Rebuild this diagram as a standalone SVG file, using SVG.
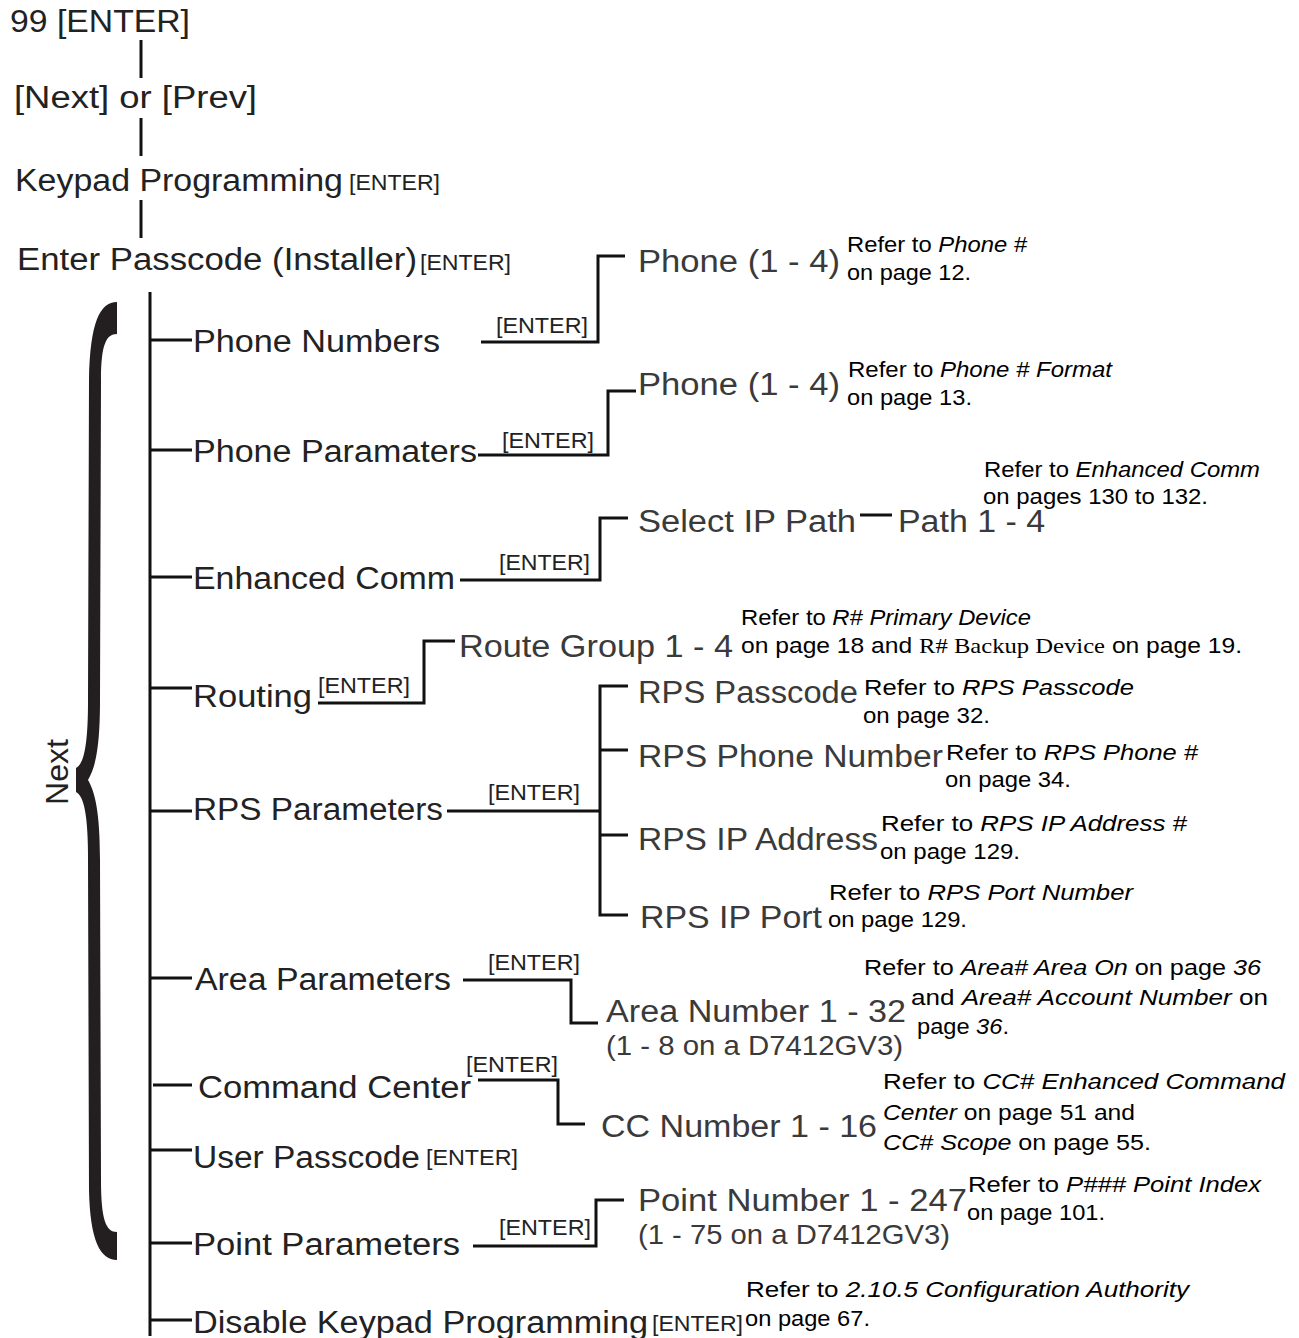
<svg xmlns="http://www.w3.org/2000/svg" width="1299" height="1338" viewBox="0 0 1299 1338">
<style>
text{font-family:"Liberation Sans","Noto Sans",sans-serif}
.m{font-size:31px;fill:#222}
.s{font-size:31px;fill:#3a3a3a}
.e{font-size:22px;fill:#222}
.r{font-size:22px;fill:#000}
.i{font-style:italic}
.sf{font-family:"Liberation Serif",serif}
.c{fill:none;stroke:#111;stroke-width:3}
</style>
<rect width="1299" height="1338" fill="#fff"/>
<g id="connectors">
<path class="c" d="M141,40V78M141,118V156M141,200V238"/>
<path class="c" d="M150,292V1336"/>
<path class="c" d="M150,340H192M150,450H192M150,577H192M150,688H192M150,811H192M150,978H192M153,1085H192M150,1150H192M150,1243H192M150,1320H192"/>
<path class="c" d="M481,342H598V256H625"/>
<path class="c" d="M478,455H608V391H636"/>
<path class="c" d="M460,580H600V518H628"/>
<path class="c" d="M860,515H892"/>
<path class="c" d="M318,703H424V641H455"/>
<path class="c" d="M447,811H600"/>
<path class="c" d="M628,686H600V915H628M600,750H628M600,835H628"/>
<path class="c" d="M463,980H571V1023H598"/>
<path class="c" d="M478,1080H558V1124H585"/>
<path class="c" d="M473,1246H596V1200H624"/>
</g>
<g id="brace">
<path fill="#231f20" d="M117,302C100,302 90,322 89,380L88,700C88,745 84,764 76,768L76,792C84,796 88,815 88,860L89,1190C90,1240 100,1260 117,1260L117,1232C106,1232 101,1220 101,1180L100,860C100,812 95,792 88,780C95,768 100,750 100,700L101,380C101,345 106,334 117,334Z"/>
<text class="m" transform="translate(68,772) rotate(-90)" text-anchor="middle" textLength="66" lengthAdjust="spacingAndGlyphs">Next</text>
</g>
<g id="top">
<text class="m" x="10" y="32" textLength="180" lengthAdjust="spacingAndGlyphs">99 [ENTER]</text>
<text class="m" x="14" y="108" textLength="243" lengthAdjust="spacingAndGlyphs">[Next] or [Prev]</text>
<text class="m" x="15" y="191" textLength="328" lengthAdjust="spacingAndGlyphs">Keypad Programming</text>
<text class="e" x="349" y="190" textLength="91" lengthAdjust="spacingAndGlyphs">[ENTER]</text>
<text class="m" x="17" y="270" textLength="400" lengthAdjust="spacingAndGlyphs">Enter Passcode (Installer)</text>
<text class="e" x="420" y="270" textLength="91" lengthAdjust="spacingAndGlyphs">[ENTER]</text>
</g>
<g id="phone-numbers">
<text class="m" x="193" y="352" textLength="247" lengthAdjust="spacingAndGlyphs">Phone Numbers</text>
<text class="e" x="496" y="333" textLength="92" lengthAdjust="spacingAndGlyphs">[ENTER]</text>
<text class="s" x="638" y="272" textLength="202" lengthAdjust="spacingAndGlyphs">Phone (1 - 4)</text>
<text class="r" x="847" y="252" textLength="180" lengthAdjust="spacingAndGlyphs">Refer to <tspan class="i">Phone #</tspan></text>
<text class="r" x="847" y="280" textLength="124" lengthAdjust="spacingAndGlyphs">on page 12.</text>
</g>
<g id="phone-parameters">
<text class="m" x="193" y="462" textLength="284" lengthAdjust="spacingAndGlyphs">Phone Paramaters</text>
<text class="e" x="502" y="448" textLength="92" lengthAdjust="spacingAndGlyphs">[ENTER]</text>
<text class="s" x="638" y="395" textLength="202" lengthAdjust="spacingAndGlyphs">Phone (1 - 4)</text>
<text class="r" x="848" y="377" textLength="264" lengthAdjust="spacingAndGlyphs">Refer to <tspan class="i">Phone # Format</tspan></text>
<text class="r" x="847" y="405" textLength="125" lengthAdjust="spacingAndGlyphs">on page 13.</text>
</g>
<g id="enhanced-comm">
<text class="m" x="193" y="589" textLength="262" lengthAdjust="spacingAndGlyphs">Enhanced Comm</text>
<text class="e" x="499" y="570" textLength="91" lengthAdjust="spacingAndGlyphs">[ENTER]</text>
<text class="s" x="638" y="532" textLength="218" lengthAdjust="spacingAndGlyphs">Select IP Path</text>
<text class="s" x="898" y="532" textLength="147" lengthAdjust="spacingAndGlyphs">Path 1 - 4</text>
<text class="r" x="984" y="477" textLength="276" lengthAdjust="spacingAndGlyphs">Refer to <tspan class="i">Enhanced Comm</tspan></text>
<text class="r" x="983" y="504" textLength="225" lengthAdjust="spacingAndGlyphs">on pages 130 to 132.</text>
</g>
<g id="routing">
<text class="m" x="193" y="707" textLength="119" lengthAdjust="spacingAndGlyphs">Routing</text>
<text class="e" x="318" y="693" textLength="92" lengthAdjust="spacingAndGlyphs">[ENTER]</text>
<text class="s" x="459" y="657" textLength="274" lengthAdjust="spacingAndGlyphs">Route Group 1 - 4</text>
<text class="r" x="741" y="625" textLength="290" lengthAdjust="spacingAndGlyphs">Refer to <tspan class="i">R# Primary Device</tspan></text>
<text class="r" x="741" y="653" textLength="501" lengthAdjust="spacingAndGlyphs">on page 18 and <tspan class="sf">R# Backup Device</tspan> on page 19.</text>
</g>
<g id="rps-parameters">
<text class="m" x="193" y="820" textLength="250" lengthAdjust="spacingAndGlyphs">RPS Parameters</text>
<text class="e" x="488" y="800" textLength="92" lengthAdjust="spacingAndGlyphs">[ENTER]</text>
<text class="s" x="638" y="703" textLength="220" lengthAdjust="spacingAndGlyphs">RPS Passcode</text>
<text class="r" x="864" y="695" textLength="270" lengthAdjust="spacingAndGlyphs">Refer to <tspan class="i">RPS Passcode</tspan></text>
<text class="r" x="863" y="723" textLength="127" lengthAdjust="spacingAndGlyphs">on page 32.</text>
<text class="s" x="638" y="767" textLength="305" lengthAdjust="spacingAndGlyphs">RPS Phone Number</text>
<text class="r" x="946" y="760" textLength="252" lengthAdjust="spacingAndGlyphs">Refer to <tspan class="i">RPS Phone #</tspan></text>
<text class="r" x="945" y="787" textLength="126" lengthAdjust="spacingAndGlyphs">on page 34.</text>
<text class="s" x="638" y="850" textLength="240" lengthAdjust="spacingAndGlyphs">RPS IP Address</text>
<text class="r" x="881" y="831" textLength="306" lengthAdjust="spacingAndGlyphs">Refer to <tspan class="i">RPS IP Address #</tspan></text>
<text class="r" x="880" y="859" textLength="140" lengthAdjust="spacingAndGlyphs">on page 129.</text>
<text class="s" x="640" y="928" textLength="182" lengthAdjust="spacingAndGlyphs">RPS IP Port</text>
<text class="r" x="829" y="900" textLength="304" lengthAdjust="spacingAndGlyphs">Refer to <tspan class="i">RPS Port Number</tspan></text>
<text class="r" x="828" y="927" textLength="139" lengthAdjust="spacingAndGlyphs">on page 129.</text>
</g>
<g id="area-parameters">
<text class="m" x="195" y="990" textLength="256" lengthAdjust="spacingAndGlyphs">Area Parameters</text>
<text class="e" x="488" y="970" textLength="92" lengthAdjust="spacingAndGlyphs">[ENTER]</text>
<text class="s" x="606" y="1022" textLength="300" lengthAdjust="spacingAndGlyphs">Area Number 1 - 32</text>
<text class="s" x="606" y="1055" style="font-size:28px" textLength="297" lengthAdjust="spacingAndGlyphs">(1 - 8 on a D7412GV3)</text>
<text class="r" x="864" y="975" textLength="397" lengthAdjust="spacingAndGlyphs">Refer to <tspan class="i">Area# Area On</tspan> on page <tspan class="i">36</tspan></text>
<text class="r" x="911" y="1005" textLength="357" lengthAdjust="spacingAndGlyphs">and <tspan class="i">Area# Account Number</tspan> on</text>
<text class="r" x="917" y="1034" textLength="92" lengthAdjust="spacingAndGlyphs">page <tspan class="i">36</tspan>.</text>
</g>
<g id="command-center">
<text class="m" x="198" y="1098" textLength="273" lengthAdjust="spacingAndGlyphs">Command Center</text>
<text class="e" x="466" y="1072" textLength="92" lengthAdjust="spacingAndGlyphs">[ENTER]</text>
<text class="s" x="601" y="1137" textLength="276" lengthAdjust="spacingAndGlyphs">CC Number 1 - 16</text>
<text class="r" x="883" y="1089" textLength="402" lengthAdjust="spacingAndGlyphs">Refer to <tspan class="i">CC# Enhanced Command</tspan></text>
<text class="r" x="883" y="1120" textLength="252" lengthAdjust="spacingAndGlyphs"><tspan class="i">Center</tspan> on page 51 and</text>
<text class="r" x="883" y="1150" textLength="268" lengthAdjust="spacingAndGlyphs"><tspan class="i">CC# Scope</tspan> on page 55.</text>
</g>
<g id="user-passcode">
<text class="m" x="193" y="1168" textLength="227" lengthAdjust="spacingAndGlyphs">User Passcode</text>
<text class="e" x="426" y="1165" textLength="92" lengthAdjust="spacingAndGlyphs">[ENTER]</text>
</g>
<g id="point-parameters">
<text class="m" x="193" y="1255" textLength="267" lengthAdjust="spacingAndGlyphs">Point Parameters</text>
<text class="e" x="499" y="1235" textLength="92" lengthAdjust="spacingAndGlyphs">[ENTER]</text>
<text class="s" x="638" y="1211" textLength="329" lengthAdjust="spacingAndGlyphs">Point Number 1 - 247</text>
<text class="s" x="638" y="1244" style="font-size:28px" textLength="312" lengthAdjust="spacingAndGlyphs">(1 - 75 on a D7412GV3)</text>
<text class="r" x="968" y="1192" textLength="293" lengthAdjust="spacingAndGlyphs">Refer to <tspan class="i">P### Point Index</tspan></text>
<text class="r" x="967" y="1220" textLength="138" lengthAdjust="spacingAndGlyphs">on page 101.</text>
</g>
<g id="disable-keypad">
<text class="m" x="193" y="1333" textLength="455" lengthAdjust="spacingAndGlyphs">Disable Keypad Programming</text>
<text class="e" x="652" y="1331" textLength="91" lengthAdjust="spacingAndGlyphs">[ENTER]</text>
<text class="r" x="746" y="1297" textLength="443" lengthAdjust="spacingAndGlyphs">Refer to <tspan class="i">2.10.5 Configuration Authority</tspan></text>
<text class="r" x="745" y="1326" textLength="125" lengthAdjust="spacingAndGlyphs">on page 67.</text>
</g>
</svg>
